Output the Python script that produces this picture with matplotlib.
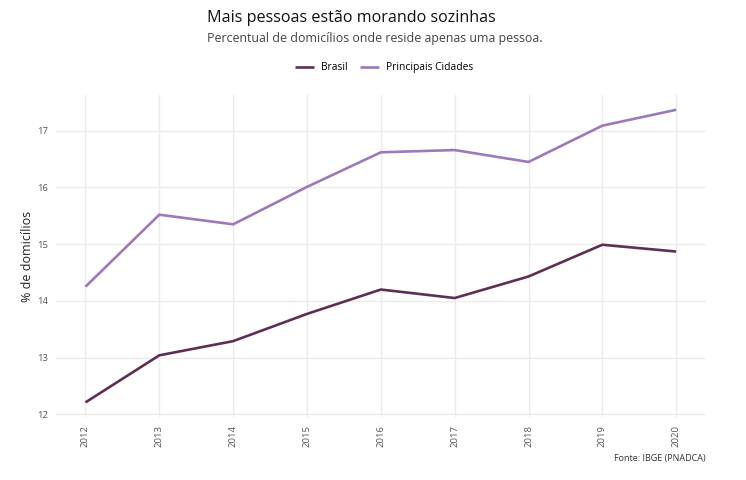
import matplotlib
matplotlib.use("Agg")
import matplotlib.pyplot as plt

plt.rcParams['font.family'] = ['Open Sans', 'DejaVu Sans']

# Percentual de domicílios unipessoais
anos = [2012, 2013, 2014, 2015, 2016, 2017, 2018, 2019, 2020]
brasil = [12.21, 13.04, 13.29, 13.77, 14.20, 14.05, 14.43, 14.99, 14.87]
principais_cidades = [14.25, 15.52, 15.35, 16.01, 16.62, 16.66, 16.45, 17.09, 17.37]

cor_brasil = '#5e2f55'
cor_cidades = '#9c7ab8'
cinza_grid = '#ebebeb'
cinza_texto = '#555555'

fig = plt.figure(figsize=(7.46, 4.80), dpi=100)
ax = fig.add_axes([0.075, 0.131, 0.871, 0.671])

ax.plot(anos, brasil, color=cor_brasil, lw=1.9, label='Brasil', solid_capstyle='butt')
ax.plot(anos, principais_cidades, color=cor_cidades, lw=1.9, label='Principais Cidades',
        solid_capstyle='butt')

ax.set_xlim(2011.6, 2020.4)
ax.set_ylim(11.95, 17.63)
ax.set_xticks(anos)
ax.set_xticklabels([str(a) for a in anos], rotation=90, fontsize=6.8, color=cinza_texto)
ax.set_yticks([12, 13, 14, 15, 16, 17])
ax.tick_params(axis='y', labelsize=6.8, labelcolor=cinza_texto)
ax.tick_params(length=0, pad=6)
ax.grid(True, color=cinza_grid, lw=1)
ax.set_axisbelow(True)
for s in ax.spines.values():
    s.set_visible(False)

ax.set_ylabel('% de domicílios', fontsize=9, color='#222222', labelpad=2)

fig.text(0.2775, 0.962, 'Mais pessoas estão morando sozinhas', fontsize=11.6,
         color='#111111', va='center', ha='left')
fig.text(0.2775, 0.920, 'Percentual de domicílios onde reside apenas uma pessoa.',
         fontsize=8.9, color='#444444', va='center', ha='left')
fig.legend(loc='center', bbox_to_anchor=(0.515, 0.859), ncol=2, frameon=False,
           fontsize=7.4, handlelength=1.8, columnspacing=1.2, handletextpad=0.7)
fig.text(0.946, 0.044, 'Fonte: IBGE (PNADCA)', fontsize=6.5, color='#333333',
         ha='right', va='center')

fig.savefig('out.png', dpi=100, facecolor='white')
